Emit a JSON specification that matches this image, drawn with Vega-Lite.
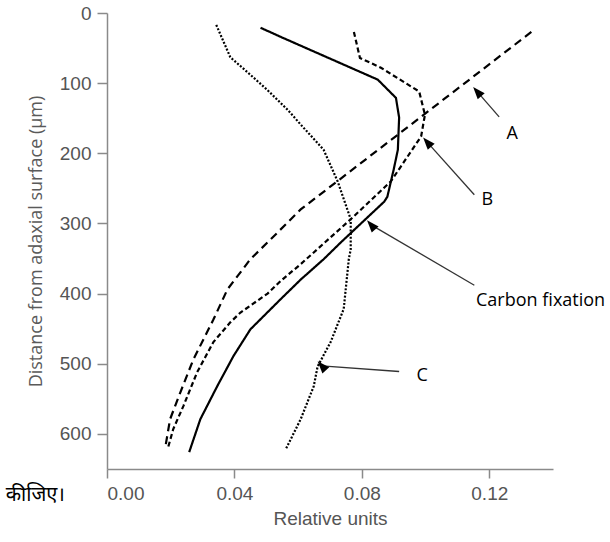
{
  "$schema": "https://vega.github.io/schema/vega-lite/v6.json",
  "autosize": {"type": "none"},
  "padding": {"left": 107, "top": 13, "right": 57, "bottom": 73},
  "width": 446,
  "height": 456,
  "background": "white",
  "config": {"view": {"stroke": null}},
  "datasets": {
    "curves": [
      {"series": "Carbon fixation", "units": 0.0482, "depth": 21},
      {"series": "Carbon fixation", "units": 0.0545, "depth": 34},
      {"series": "Carbon fixation", "units": 0.085, "depth": 95},
      {"series": "Carbon fixation", "units": 0.0907, "depth": 121},
      {"series": "Carbon fixation", "units": 0.0917, "depth": 149},
      {"series": "Carbon fixation", "units": 0.0913, "depth": 195},
      {"series": "Carbon fixation", "units": 0.090, "depth": 223},
      {"series": "Carbon fixation", "units": 0.088, "depth": 262},
      {"series": "Carbon fixation", "units": 0.087, "depth": 269},
      {"series": "Carbon fixation", "units": 0.0734, "depth": 327},
      {"series": "Carbon fixation", "units": 0.068, "depth": 351},
      {"series": "Carbon fixation", "units": 0.0608, "depth": 380},
      {"series": "Carbon fixation", "units": 0.0545, "depth": 408},
      {"series": "Carbon fixation", "units": 0.045, "depth": 451},
      {"series": "Carbon fixation", "units": 0.0397, "depth": 489},
      {"series": "Carbon fixation", "units": 0.0346, "depth": 532},
      {"series": "Carbon fixation", "units": 0.0293, "depth": 579},
      {"series": "Carbon fixation", "units": 0.0258, "depth": 626},
      {"series": "A", "units": 0.1332, "depth": 27},
      {"series": "A", "units": 0.0608, "depth": 280},
      {"series": "A", "units": 0.0513, "depth": 323},
      {"series": "A", "units": 0.045, "depth": 351},
      {"series": "A", "units": 0.0378, "depth": 394},
      {"series": "A", "units": 0.0334, "depth": 437},
      {"series": "A", "units": 0.0271, "depth": 494},
      {"series": "A", "units": 0.023, "depth": 541},
      {"series": "A", "units": 0.0198, "depth": 579},
      {"series": "A", "units": 0.0183, "depth": 619},
      {"series": "B", "units": 0.0775, "depth": 27},
      {"series": "B", "units": 0.0794, "depth": 64},
      {"series": "B", "units": 0.086, "depth": 78},
      {"series": "B", "units": 0.098, "depth": 112},
      {"series": "B", "units": 0.0998, "depth": 145},
      {"series": "B", "units": 0.0986, "depth": 176},
      {"series": "B", "units": 0.0891, "depth": 240},
      {"series": "B", "units": 0.0765, "depth": 294},
      {"series": "B", "units": 0.0608, "depth": 358},
      {"series": "B", "units": 0.0545, "depth": 382},
      {"series": "B", "units": 0.0504, "depth": 400},
      {"series": "B", "units": 0.0419, "depth": 427},
      {"series": "B", "units": 0.0387, "depth": 441},
      {"series": "B", "units": 0.0334, "depth": 469},
      {"series": "B", "units": 0.0283, "depth": 512},
      {"series": "B", "units": 0.024, "depth": 560},
      {"series": "B", "units": 0.0208, "depth": 593},
      {"series": "B", "units": 0.0192, "depth": 619},
      {"series": "C", "units": 0.0343, "depth": 17},
      {"series": "C", "units": 0.0387, "depth": 63},
      {"series": "C", "units": 0.045, "depth": 88},
      {"series": "C", "units": 0.0504, "depth": 110},
      {"series": "C", "units": 0.0567, "depth": 138},
      {"series": "C", "units": 0.0608, "depth": 159},
      {"series": "C", "units": 0.068, "depth": 195},
      {"series": "C", "units": 0.0724, "depth": 240},
      {"series": "C", "units": 0.0765, "depth": 294},
      {"series": "C", "units": 0.0765, "depth": 337},
      {"series": "C", "units": 0.0759, "depth": 351},
      {"series": "C", "units": 0.0743, "depth": 422},
      {"series": "C", "units": 0.0702, "depth": 469},
      {"series": "C", "units": 0.0661, "depth": 504},
      {"series": "C", "units": 0.0649, "depth": 532},
      {"series": "C", "units": 0.0608, "depth": 579},
      {"series": "C", "units": 0.0561, "depth": 622}
    ],
    "arrows": [
      {"label": "A", "x1": 0.1231, "y1": 148, "x2": 0.1162, "y2": 112},
      {"label": "B", "x1": 0.1153, "y1": 259, "x2": 0.1005, "y2": 184},
      {"label": "Carbon fixation", "x1": 0.1153, "y1": 388, "x2": 0.0829, "y2": 302},
      {"label": "C", "x1": 0.0917, "y1": 511, "x2": 0.0674, "y2": 503}
    ],
    "labels": [
      {"label": "A", "x": 0.1272, "y": 173},
      {"label": "B", "x": 0.1194, "y": 266},
      {"label": "Carbon fixation", "x": 0.1361, "y": 410},
      {"label": "C", "x": 0.0989, "y": 518}
    ],
    "note": [
      {"text": "कीजिए।", "x": -0.0132, "y": 687}
    ]
  },
  "layer": [
    {
      "data": {"name": "curves"},
      "mark": {"type": "line", "color": "black", "strokeWidth": 2.2, "clip": false},
      "encoding": {
        "x": {
          "field": "units", "type": "quantitative",
          "scale": {"domain": [0, 0.14], "nice": false, "zero": false},
          "axis": {
            "title": "Relative units",
            "values": [0, 0.04, 0.08, 0.12],
            "format": ".2f",
            "grid": false,
            "domainColor": "#8a8a8a", "domainWidth": 1.5,
            "tickColor": "#8a8a8a", "tickWidth": 1.5, "tickSize": 9,
            "labelFont": "Liberation Sans", "labelFontSize": 19, "labelColor": "#555555", "labelPadding": 6,
            "titleFont": "Liberation Sans", "titleFontSize": 19, "titleFontWeight": "normal", "titleColor": "#555555", "titlePadding": 6
          }
        },
        "y": {
          "field": "depth", "type": "quantitative",
          "scale": {"domain": [0, 650], "reverse": true, "nice": false, "zero": false},
          "axis": {
            "title": "Distance from adaxial surface (µm)",
            "values": [0, 100, 200, 300, 400, 500, 600],
            "grid": false,
            "domainColor": "#8a8a8a", "domainWidth": 1.5,
            "tickColor": "#8a8a8a", "tickWidth": 1.5, "tickSize": 10,
            "labelFont": "Liberation Sans", "labelFontSize": 19, "labelColor": "#555555", "labelPadding": 6,
            "titleFont": "Open Sans", "titleFontSize": 18, "titleFontWeight": "normal", "titleColor": "#5a5a5a", "titlePadding": 14
          }
        },
        "detail": {"field": "series"},
        "order": {"field": "depth", "type": "quantitative"},
        "strokeDash": {
          "field": "series", "type": "nominal",
          "scale": {"domain": ["Carbon fixation", "A", "B", "C"], "range": [[1, 0], [8, 5], [5, 3], [2, 1.7]]},
          "legend": null
        }
      }
    },
    {
      "data": {"name": "arrows"},
      "mark": {"type": "rule", "color": "#333333", "strokeWidth": 1.3},
      "encoding": {
        "x": {"field": "x1", "type": "quantitative"},
        "y": {"field": "y1", "type": "quantitative"},
        "x2": {"field": "x2"},
        "y2": {"field": "y2"}
      }
    },
    {
      "data": {"name": "arrows"},
      "mark": {"type": "point", "shape": "M0,-1L0.75,1L-0.75,1Z", "filled": true, "color": "black", "opacity": 1, "size": 150},
      "encoding": {
        "x": {"field": "x2", "type": "quantitative"},
        "y": {"field": "y2", "type": "quantitative"},
        "angle": {
          "field": "label", "type": "nominal",
          "scale": {"domain": ["A", "B", "Carbon fixation", "C"], "range": [319, 318, 300, 274]},
          "legend": null
        }
      }
    },
    {
      "data": {"name": "labels"},
      "mark": {"type": "text", "font": "Open Sans", "fontSize": 18, "color": "black", "baseline": "middle", "align": "center", "clip": false},
      "encoding": {
        "x": {"field": "x", "type": "quantitative"},
        "y": {"field": "y", "type": "quantitative"},
        "text": {"field": "label"}
      }
    },
    {
      "data": {"name": "note"},
      "mark": {"type": "text", "font": "Noto Sans Devanagari, Noto Sans, sans-serif", "fontSize": 20, "color": "black", "baseline": "middle", "align": "right", "clip": false},
      "encoding": {
        "x": {"field": "x", "type": "quantitative"},
        "y": {"field": "y", "type": "quantitative"},
        "text": {"field": "text"}
      }
    }
  ]
}
